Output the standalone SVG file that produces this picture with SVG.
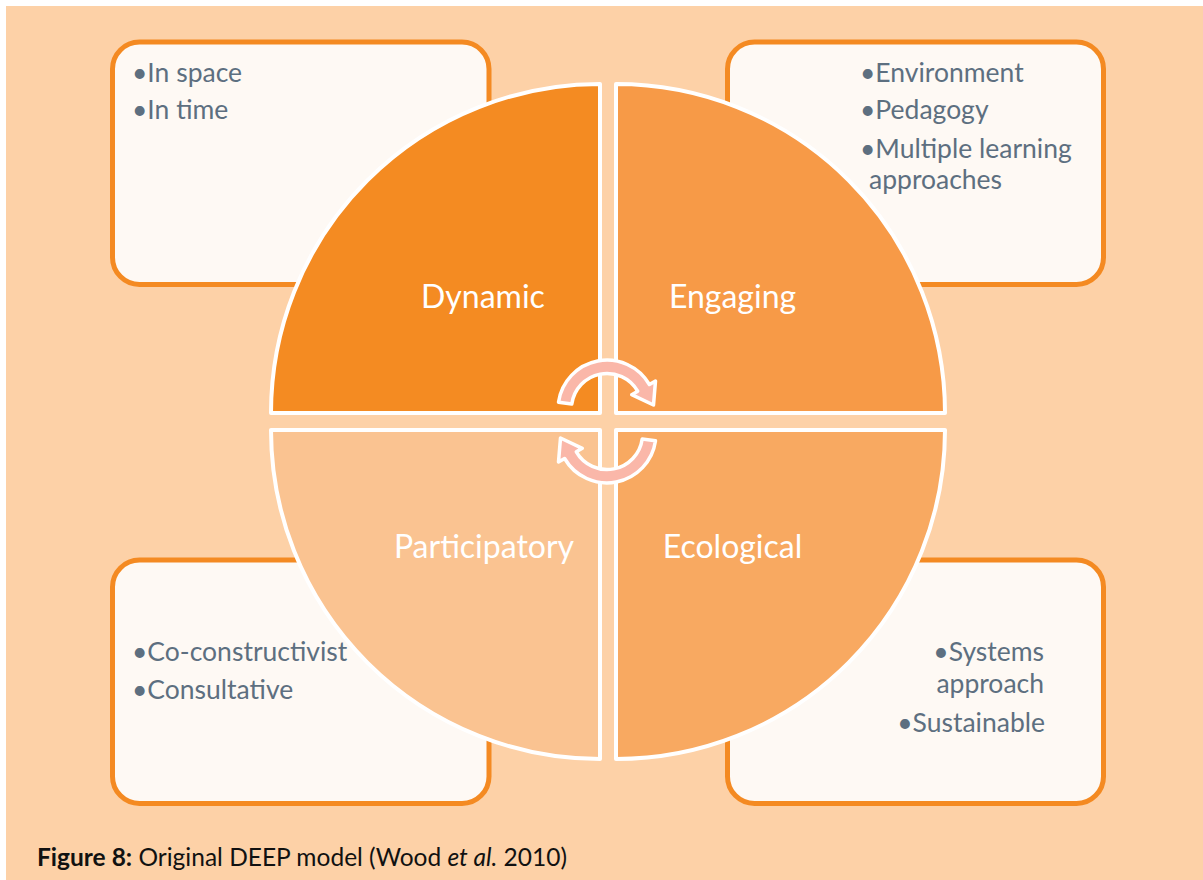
<svg xmlns="http://www.w3.org/2000/svg" width="1203" height="880" viewBox="0 0 1203 880">
<style>
.box{fill:#FEF9F4;stroke:#F48A22;stroke-width:5}
.q{stroke:#FFFFFF;stroke-width:4;stroke-linejoin:round}
.lbl{font-family:Lato,"Liberation Sans",sans-serif;font-size:32px;fill:#FFFFFF;text-anchor:middle}
.bt{font-family:Lato,"Liberation Sans",sans-serif;font-size:26.5px;fill:#5D6F80}
.arr{fill:#FAB7A9;stroke:#FFFFFF;stroke-width:3.5;stroke-linejoin:round}
.cap{font-family:Lato,"Liberation Sans",sans-serif;font-size:24.5px;fill:#111111}
</style>
<defs>
<path id="arrowShape" d="M 558.5,402.2 A 49 49 0 0 1 649.4,384.5 L 655.5,381 L 653.5,405 L 631.7,394.7 L 637.7,391.2 A 35.5 35.5 0 0 0 571.8,404.1 Z"/>
</defs>
<rect x="0" y="0" width="1203" height="880" fill="#FFFFFF"/>
<rect x="6" y="6" width="1197" height="874" fill="#FDD1A7"/>

<g id="box-dynamic">
<rect class="box" x="112.5" y="42" width="376.5" height="242.5" rx="27"/>
<text class="bt" x="132" y="82">•In space</text>
<text class="bt" x="132" y="119">•In time</text>
</g>
<g id="box-engaging">
<rect class="box" x="727.5" y="42" width="376" height="242.5" rx="27"/>
<text class="bt" x="860" y="82">•Environment</text>
<text class="bt" x="860" y="119">•Pedagogy</text>
<text class="bt" x="860" y="157.5">•Multiple learning</text>
<text class="bt" x="869" y="189">approaches</text>
</g>
<g id="box-participatory">
<rect class="box" x="112.5" y="560" width="376.5" height="243.5" rx="27"/>
<text class="bt" x="132" y="661">•Co-constructivist</text>
<text class="bt" x="132" y="699">•Consultative</text>
</g>
<g id="box-ecological">
<rect class="box" x="727.5" y="560" width="376" height="243.5" rx="27"/>
<text class="bt" x="1044" y="661" text-anchor="end">•Systems</text>
<text class="bt" x="1044" y="693" text-anchor="end">approach</text>
<text class="bt" x="1045" y="731.5" text-anchor="end">•Sustainable</text>
</g>

<g id="q-dynamic">
<path class="q" fill="#F48B22" d="M 600,413 L 271,413 A 329 329 0 0 1 600,84 Z"/>
<text class="lbl" x="483" y="308">Dynamic</text>
</g>
<g id="q-engaging">
<path class="q" fill="#F79A47" d="M 616,413 L 616,84 A 329 329 0 0 1 945,413 Z"/>
<text class="lbl" x="732.5" y="308">Engaging</text>
</g>
<g id="q-participatory">
<path class="q" fill="#FAC391" d="M 600,430 L 600,759 A 329 329 0 0 1 271,430 Z"/>
<text class="lbl" x="484" y="557.5">Participatory</text>
</g>
<g id="q-ecological">
<path class="q" fill="#F8A961" d="M 616,430 L 945,430 A 329 329 0 0 1 616,759 Z"/>
<text class="lbl" x="732.5" y="557.5">Ecological</text>
</g>

<g id="connectors">
<use href="#arrowShape" class="arr"/>
<use href="#arrowShape" class="arr" transform="rotate(180 607 421.5)"/>
</g>

<text class="cap" x="37" y="866"><tspan font-weight="bold">Figure 8:</tspan> Original DEEP model (Wood <tspan font-style="italic">et al.</tspan> 2010)</text>
</svg>
